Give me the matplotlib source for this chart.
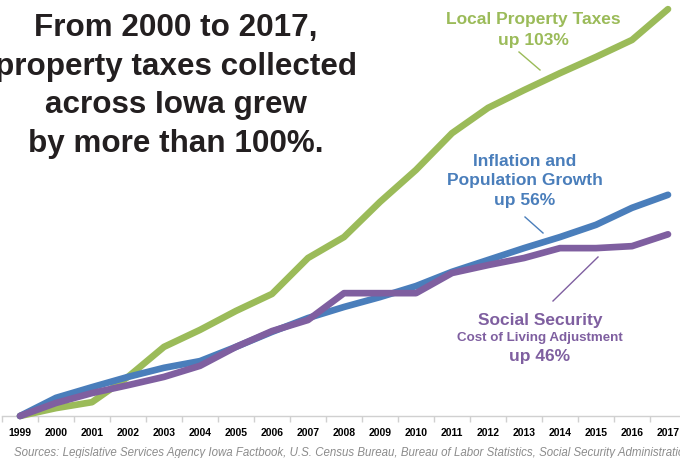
import numpy as np
import matplotlib.pyplot as plt

years = [str(y) for y in range(1999, 2018)]

# cumulative growth since 1999, percent
property_taxes = [0, 2.0, 3.5, 9.9, 17.5, 21.8, 26.6, 30.9, 40.0, 45.3,
                  54.2, 62.3, 71.6, 78.0, 82.5, 86.8, 90.9, 95.2, 103.0]
inflation_pop = [0, 4.6, 7.3, 9.9, 12.2, 13.9, 17.5, 21.3, 24.8, 27.6,
                 30.1, 32.9, 36.5, 39.5, 42.5, 45.3, 48.4, 52.7, 56.0]
social_security = [0, 3.3, 5.8, 7.8, 9.9, 12.7, 17.5, 21.5, 24.3, 31.1,
                   31.1, 31.1, 36.2, 38.2, 40.0, 42.5, 42.5, 43.0, 46.0]

GREEN = '#9bbb59'
BLUE = '#4a7ebb'
PURPLE = '#7f5fa0'

W, H = 680, 458
fig = plt.figure(figsize=(W / 100, H / 100), dpi=100)
plt.rcParams['font.family'] = ['Liberation Sans', 'DejaVu Sans']

# axes placed in pixel terms: category centres at 20 + 36*i, zero at y=416
ax = fig.add_axes([2 / W, 42 / H, 684 / W, 105 * 3.95 / H])
x = np.arange(len(years))
ax.plot(x, property_taxes, color=GREEN, lw=4.8, solid_capstyle='round',
        solid_joinstyle='round', clip_on=False, zorder=3)
ax.plot(x, inflation_pop, color=BLUE, lw=4.8, solid_capstyle='round',
        solid_joinstyle='round', clip_on=False, zorder=4)
ax.plot(x, social_security, color=PURPLE, lw=4.8, solid_capstyle='round',
        solid_joinstyle='round', clip_on=False, zorder=5)

ax.set_xlim(-0.5, len(years) - 0.5)
ax.set_ylim(0, 105)
for s in ['top', 'right', 'left']:
    ax.spines[s].set_visible(False)
ax.spines['bottom'].set_color('#d0d0d0')
ax.spines['bottom'].set_linewidth(1.0)
ax.set_yticks([])
ax.set_xticks(np.arange(-0.5, len(years), 1.0))
ax.set_xticklabels([])
ax.set_xticks(x, minor=True)
ax.set_xticklabels(years, minor=True, fontsize=7.5, fontweight='bold')
ax.tick_params(axis='x', which='major', length=4, color='#d0d0d0', width=1)
ax.tick_params(axis='x', which='minor', length=0, pad=9)


def px(xp, yp):
    return xp / W, 1 - yp / H


tx, ty = px(176, 86)
fig.text(tx, ty, 'From 2000 to 2017,\nproperty taxes collected\nacross Iowa grew\nby more than 100%.',
         ha='center', va='center', fontsize=22.6, fontweight='bold', color='#231f20',
         linespacing=1.37)

tx, ty = px(533, 30)
fig.text(tx, ty, 'Local Property Taxes\nup 103%', ha='center', va='center',
         fontsize=12.5, fontweight='bold', color=GREEN, linespacing=1.5)

tx, ty = px(525, 181)
fig.text(tx, ty, 'Inflation and\nPopulation Growth\nup 56%', ha='center', va='center',
         fontsize=12.5, fontweight='bold', color=BLUE, linespacing=1.38)

tx, ty = px(540, 320)
fig.text(tx, ty, 'Social Security', ha='center', va='center',
         fontsize=12.5, fontweight='bold', color=PURPLE)
tx, ty = px(540, 338)
fig.text(tx, ty, 'Cost of Living Adjustment', ha='center', va='center',
         fontsize=9.6, fontweight='bold', color=PURPLE)
tx, ty = px(540, 357)
fig.text(tx, ty, 'up 46%', ha='center', va='center',
         fontsize=12.5, fontweight='bold', color=PURPLE)

# leader lines
for (x0, y0, x1, y1, c) in [(519, 52, 540, 70, GREEN),
                            (525, 217, 543, 233, BLUE),
                            (598, 257, 553, 301, PURPLE)]:
    a0 = px(x0, y0)
    a1 = px(x1, y1)
    fig.add_artist(plt.Line2D([a0[0], a1[0]], [a0[1], a1[1]], color=c, lw=1.0))

tx, ty = px(14, 453)
fig.text(tx, ty, 'Sources: Legislative Services Agency Iowa Factbook, U.S. Census Bureau, '
         'Bureau of Labor Statistics, Social Security Administration',
         ha='left', va='center', fontsize=8.3, style='italic', color='#8c8c8c')

fig.savefig('out.png', dpi=100)
